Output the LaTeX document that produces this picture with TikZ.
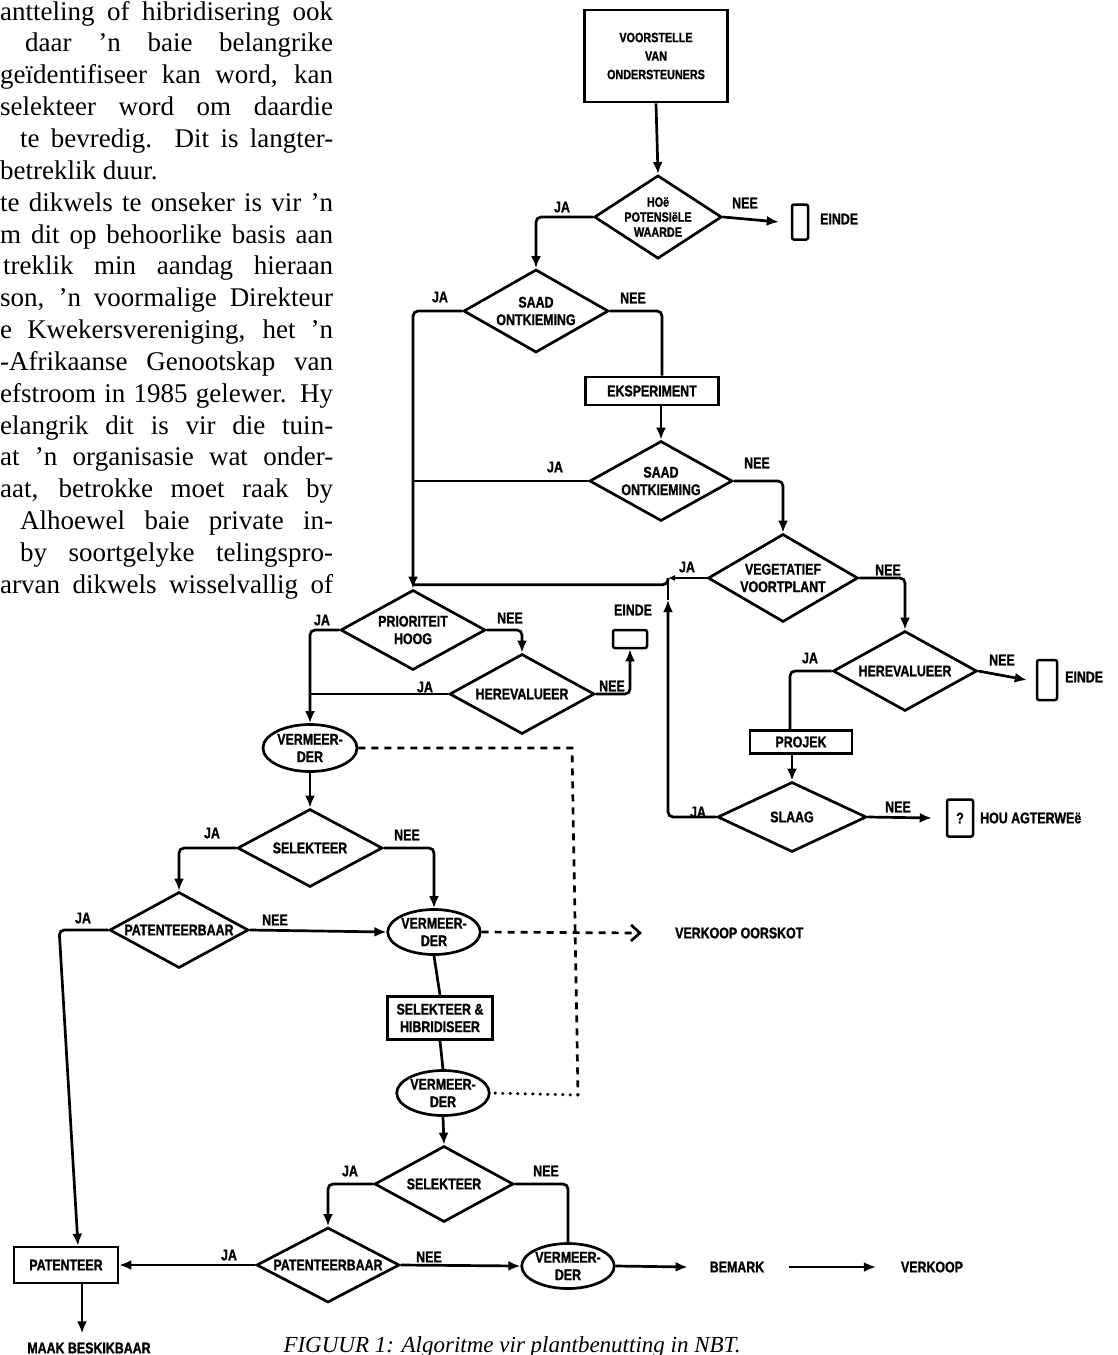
\documentclass[tikz,border=0pt]{standalone}
\usepackage{fontspec}
\setmainfont{Liberation Serif}
\newfontfamily\chartfont[FakeStretch=0.8, BoldFeatures={FakeBold=1.2}]{Liberation Sans}
\newcommand\lblfont{\chartfont\bfseries\fontsize{15.5}{17.5}\selectfont}
\usetikzlibrary{arrows.meta, shapes.geometric}

\begin{document}
\begin{tikzpicture}[x=1pt, y=-1pt,
  dia/.style={diamond, draw, line width=2.7pt, inner sep=0pt, aspect=1.8,
    minimum width=145pt, minimum height=80pt, align=center, font=\lblfont},
  stepbox/.style={rectangle, draw, line width=2.7pt, inner sep=0pt, align=center, font=\lblfont},
  vmd/.style={ellipse, draw, line width=2.7pt, inner sep=0pt,
    minimum width=90pt, minimum height=46pt, align=center, font=\lblfont},
  endbox/.style={rectangle, draw, rounded corners=2pt, line width=2.5pt, inner sep=0pt},
  yesno/.style={font=\lblfont, inner sep=0pt},
  lbl/.style={font=\lblfont, inner sep=0pt},
  con/.style={line width=2.7pt, rounded corners=5pt},
  arr/.style={con, -{Latex[length=12pt, width=10pt]}},
  dsh/.style={line width=2.7pt, dash pattern=on 7pt off 6pt},
  body/.style={font=\fontsize{27}{32}\selectfont, inner sep=0pt, anchor=base west}
]
\useasboundingbox (0,0) rectangle (1118,1355);
% === Body text of the left column ===
\node[body] (t1) at (0,20) {\makebox[333pt][s]{antteling of hibridisering ook}};
\node[body] (t2) at (25,51.9) {\makebox[308pt][s]{daar ’n baie belangrike}};
\node[body] (t3) at (0,83.7) {\makebox[333pt][s]{geïdentifiseer kan word, kan}};
\node[body] (t4) at (0,115.6) {\makebox[333pt][s]{selekteer word om daardie}};
\node[body] (t5) at (20,147.4) {\makebox[313pt][s]{te bevredig. Dit is langter-}};
\node[body] (t6) at (0,179.3) {betreklik duur.};
\node[body] (t7) at (0,211.1) {\makebox[333pt][s]{te dikwels te onseker is vir ’n}};
\node[body] (t8) at (0,243) {\makebox[333pt][s]{m dit op behoorlike basis aan}};
\node[body] (t9) at (3,274.8) {\makebox[330pt][s]{treklik min aandag hieraan}};
\node[body] (t10) at (0,306.7) {\makebox[333pt][s]{son, ’n voormalige Direkteur}};
\node[body] (t11) at (0,338.5) {\makebox[333pt][s]{e Kwekersvereniging, het ’n}};
\node[body] (t12) at (0,370.4) {\makebox[333pt][s]{-Afrikaanse Genootskap van}};
\node[body] (t13) at (0,402.2) {\makebox[333pt][s]{efstroom in 1985 gelewer. Hy}};
\node[body] (t14) at (0,434.1) {\makebox[333pt][s]{elangrik dit is vir die tuin-}};
\node[body] (t15) at (0,465.9) {\makebox[333pt][s]{at ’n organisasie wat onder-}};
\node[body] (t16) at (0,497.8) {\makebox[333pt][s]{aat, betrokke moet raak by}};
\node[body] (t17) at (20,529.6) {\makebox[313pt][s]{Alhoewel baie private in-}};
\node[body] (t18) at (20,561.5) {\makebox[313pt][s]{by soortgelyke telingspro-}};
\node[body] (t19) at (0,593.3) {\makebox[333pt][s]{arvan dikwels wisselvallig of}};
% === Upper branch: proposals and seed questions ===
\node[stepbox, minimum width=143pt, minimum height=92pt,
  font=\chartfont\bfseries\fontsize{13.5}{18.5}\selectfont] (voor) at (656,56) {VOORSTELLE\\VAN\\ONDERSTEUNERS};
\node[dia, aspect=1.53, minimum width=127pt, minimum height=83pt,
  font=\chartfont\bfseries\fontsize{13.5}{15}\selectfont] (hoe) at (658,217) {HOë\\POTENSIëLE\\WAARDE};
\node[dia, minimum height=83pt] (saad1) at (536,311) {SAAD\\ONTKIEMING};
\node[stepbox, minimum width=133pt, minimum height=28pt] (eksp) at (652,391) {EKSPERIMENT};
\node[dia, minimum width=143pt] (saad2) at (661,481) {SAAD\\ONTKIEMING};
\node[dia, minimum width=150pt, minimum height=88pt] (veg) at (783,578) {VEGETATIEF\\VOORTPLANT};
\node[dia, minimum width=144pt] (here2) at (905,671) {HEREVALUEER};
\node[stepbox, minimum width=102pt, minimum height=23pt] (projek) at (801,742) {PROJEK};
\node[dia, minimum width=149pt, minimum height=70pt] (slaag) at (792,817) {SLAAG};
% === Middle: priority and multiplication ===
\node[dia] (prior) at (413,630) {PRIORITEIT\\HOOG};
\node[dia] (here1) at (522,694) {HEREVALUEER};
\node[vmd, minimum width=94pt, minimum height=47pt] (vm1) at (310,748) {VERMEER-\\DER};
\node[dia, minimum height=78pt] (sel1) at (310,848) {SELEKTEER};
\node[dia, minimum width=139pt, minimum height=76pt] (pat1) at (179,930) {PATENTEERBAAR};
\node[vmd, minimum width=88pt, minimum height=45pt] (vm2) at (434,932) {VERMEER-\\DER};
\node[stepbox, minimum width=105pt, minimum height=43pt] (selhib) at (440,1018) {SELEKTEER \&\\HIBRIDISEER};
\node[vmd, minimum width=92pt, minimum height=45pt] (vm3) at (443,1093) {VERMEER-\\DER};
% === Bottom row ===
\node[dia, minimum width=139pt, minimum height=76pt] (sel2) at (444,1184) {SELEKTEER};
\node[dia, minimum width=143pt, minimum height=75pt] (pat2) at (328,1265) {PATENTEERBAAR};
\node[vmd, minimum width=86pt, minimum height=45pt] (vm4) at (568,1266) {VERMEER-\\DER};
\node[stepbox, minimum width=104pt, minimum height=36pt] (patent) at (66,1265) {PATENTEER};
% === End boxes and outcome texts ===
\node[endbox, minimum width=16pt, minimum height=35pt] (einde1) at (800,222) {};
\node[endbox, minimum width=34pt, minimum height=18pt] (einde2) at (630,639) {};
\node[endbox, minimum width=20pt, minimum height=40pt] (einde3) at (1047,680) {};
\node[endbox, minimum width=26pt, minimum height=37pt, font=\lblfont] (vraag) at (960,818) {?};
\node[lbl, anchor=west] (e1txt) at (820,219) {EINDE};
\node[lbl] (e2txt) at (633,610) {EINDE};
\node[lbl, anchor=west] (e3txt) at (1065,677) {EINDE};
\node[lbl, anchor=west] (hou) at (980,818) {HOU AGTERWEë};
\node[lbl, anchor=west] (oorskot) at (675,933) {VERKOOP OORSKOT};
\node[lbl] (bemark) at (737,1267) {BEMARK};
\node[lbl] (verkoop) at (932,1267) {VERKOOP};
\node[lbl] (maak) at (89,1348) {MAAK BESKIKBAAR};
\node[font=\itshape\fontsize{23}{26}\selectfont, inner sep=0pt] (caption) at (512,1347) {FIGUUR 1: Algoritme vir plantbenutting in NBT.};
% === JA / NEE labels ===
\node[yesno] (ja1) at (562,207) {JA};
\node[yesno] (nee1) at (745,203) {NEE};
\node[yesno] (ja2) at (440,297) {JA};
\node[yesno] (nee2) at (633,298) {NEE};
\node[yesno] (ja3) at (555,467) {JA};
\node[yesno] (nee3) at (757,463) {NEE};
\node[yesno] (ja4) at (687,567) {JA};
\node[yesno] (nee4) at (888,570) {NEE};
\node[yesno] (ja5) at (810,658) {JA};
\node[yesno] (nee5) at (1002,660) {NEE};
\node[yesno] (ja6) at (698,812) {JA};
\node[yesno] (nee6) at (898,807) {NEE};
\node[yesno] (ja7) at (322,620) {JA};
\node[yesno] (nee7) at (510,618) {NEE};
\node[yesno] (ja8) at (425,687) {JA};
\node[yesno] (nee8) at (612,686) {NEE};
\node[yesno] (ja9) at (212,833) {JA};
\node[yesno] (nee9) at (407,835) {NEE};
\node[yesno] (ja10) at (83,918) {JA};
\node[yesno] (nee10) at (275,920) {NEE};
\node[yesno] (ja11) at (350,1171) {JA};
\node[yesno] (nee11) at (546,1171) {NEE};
\node[yesno] (ja12) at (229,1255) {JA};
\node[yesno] (nee12) at (429,1257) {NEE};
% === Connectors ===
\draw[arr] (voor.south) -- (hoe.north);
\draw[arr] (hoe.west) -| (saad1.north);
\draw[arr] (hoe.east) -- ([xshift=-12pt]einde1.west);
\draw[arr] (saad1.west) -| (prior.north);
\draw[con] (saad1.east) -| ([xshift=10pt]eksp.north);
\draw[arr] (saad2.north |- eksp.south) -- (saad2.north);
\draw[con] (saad2.west) -- (saad2.west -| prior.north);
\draw[arr] (saad2.east) -| (veg.north);
\coordinate (jveg) at (668,578);
\draw[con, -{Latex[length=7pt, width=6pt]}] (veg.west) -- (jveg);
\draw[con] (jveg) |- ([yshift=4pt]prior.north);
\draw[arr] (slaag.west) -| ([yshift=-22pt]jveg);
\draw[con] ([yshift=-22pt]jveg) -- (jveg);
\draw[arr] (prior.west) -| (vm1.north);
\draw[arr] (prior.east) -| (here1.north);
\draw[con] (here1.west) -- (here1.west -| vm1.north);
\draw[arr] (here1.east) -| (einde2.south);
\draw[arr] (veg.east) -| (here2.north);
\draw[arr] (here2.east) -- ([xshift=-9pt]einde3.west);
\draw[con] (here2.west) -| ([xshift=-11pt]projek.north);
\draw[arr] (slaag.north |- projek.south) -- (slaag.north);
\draw[arr] (slaag.east) -- ([xshift=-14pt]vraag.west);
\draw[arr] (vm1.south) -- (sel1.north);
\draw[arr] (sel1.west) -| (pat1.north);
\draw[arr] (sel1.east) -| (vm2.north);
\draw[arr] (pat1.east) -- (vm2.west);
\draw[arr] (pat1.west) -- ++(-49,0) -- ([xshift=12pt]patent.north);
\draw[con] (vm2.south) -- (selhib.north);
\draw[con] (selhib.south) -- (vm3.north);
\draw[arr] (vm3.south) -- (sel2.north);
\draw[arr] (sel2.west) -| (pat2.north);
\draw[con] (sel2.east) -| (vm4.north);
\draw[arr] (pat2.west) -- (patent.east);
\draw[arr] (pat2.east) -- (vm4.west);
\draw[arr] (vm4.east) -- ([xshift=-22pt]bemark.west);
\draw[arr] ([xshift=25pt]bemark.east) -- ([xshift=-25pt]verkoop.west);
\draw[arr] ([xshift=16pt]patent.south) -- ([xshift=-7pt, yshift=9pt]maak.north);
% === Dashed surplus line ===
\coordinate (dtop) at (572,748);
\coordinate (dbot) at (578,1095);
\draw[dsh] (vm1.east) -- (dtop) -- (dbot);
\draw[line width=3pt, line cap=round, dash pattern=on 0.5pt off 7pt] (dbot) -- (vm3.east);
\draw[dsh, -{Straight Barb[length=9pt, width=16pt]}] (vm2.east) -- ([xshift=-33pt]oorskot.west);
\end{tikzpicture}
\end{document}
